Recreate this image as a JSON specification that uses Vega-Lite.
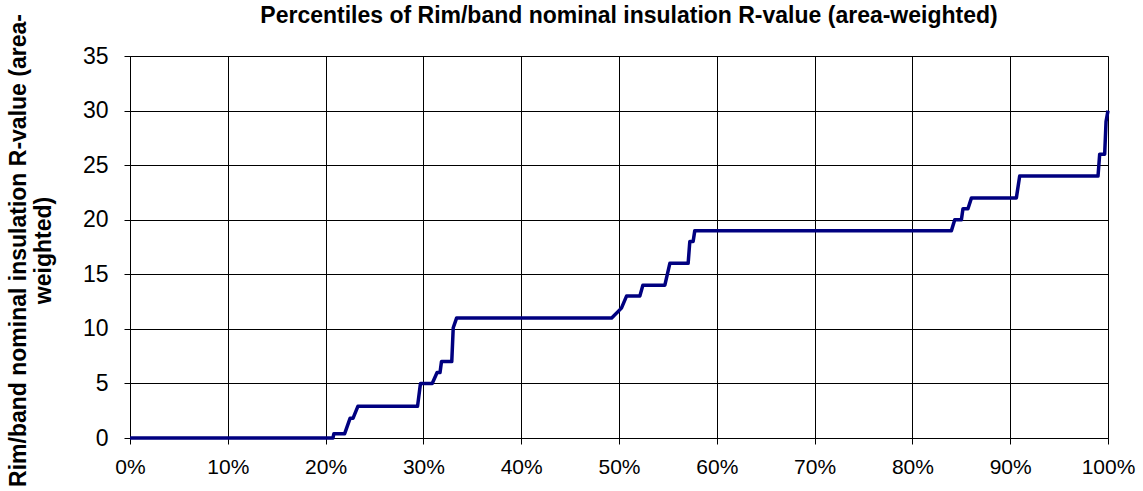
{
  "$schema": "https://vega.github.io/schema/vega-lite/v6.json",
  "width": 978,
  "height": 382,
  "autosize": "none",
  "padding": {"left": 130, "top": 56, "right": 35, "bottom": 53},
  "background": "white",
  "config": {
    "font": "Liberation Sans",
    "view": {"stroke": "#808080", "strokeWidth": 1}
  },
  "title": {
    "text": "Percentiles of Rim/band nominal insulation R-value (area-weighted)",
    "fontSize": 23,
    "fontWeight": "bold",
    "color": "black",
    "anchor": "middle",
    "baseline": "bottom",
    "dx": 10,
    "offset": -37
  },
  "data": {
    "values": [
      {"p": 0.0, "r": 0},
      {"p": 0.2075, "r": 0},
      {"p": 0.2085, "r": 0.4},
      {"p": 0.2195, "r": 0.4},
      {"p": 0.225, "r": 1.8},
      {"p": 0.228, "r": 1.8},
      {"p": 0.233, "r": 2.9},
      {"p": 0.294, "r": 2.9},
      {"p": 0.297, "r": 5},
      {"p": 0.309, "r": 5},
      {"p": 0.314, "r": 6},
      {"p": 0.317, "r": 6},
      {"p": 0.3185, "r": 7},
      {"p": 0.329, "r": 7},
      {"p": 0.3305, "r": 10.1},
      {"p": 0.334, "r": 11},
      {"p": 0.4925, "r": 11},
      {"p": 0.5025, "r": 11.9},
      {"p": 0.5077, "r": 13},
      {"p": 0.5213, "r": 13},
      {"p": 0.5244, "r": 14},
      {"p": 0.5469, "r": 14},
      {"p": 0.552, "r": 16},
      {"p": 0.5707, "r": 16},
      {"p": 0.5724, "r": 18},
      {"p": 0.5758, "r": 18},
      {"p": 0.5775, "r": 19},
      {"p": 0.8399, "r": 19},
      {"p": 0.8433, "r": 20},
      {"p": 0.8501, "r": 20},
      {"p": 0.8517, "r": 21},
      {"p": 0.8568, "r": 21},
      {"p": 0.8604, "r": 22},
      {"p": 0.9063, "r": 22},
      {"p": 0.9097, "r": 24},
      {"p": 0.9898, "r": 24},
      {"p": 0.9915, "r": 26},
      {"p": 0.9966, "r": 26},
      {"p": 0.998, "r": 29},
      {"p": 1.0, "r": 30}
    ]
  },
  "mark": {"type": "line", "color": "#000080", "strokeWidth": 3.5, "strokeJoin": "round"},
  "encoding": {
    "x": {
      "field": "p",
      "type": "quantitative",
      "scale": {"domain": [0, 1], "nice": false, "zero": false},
      "axis": {
        "format": ".0%",
        "values": [0, 0.1, 0.2, 0.3, 0.4, 0.5, 0.6, 0.7, 0.8, 0.9, 1],
        "title": null,
        "grid": true,
        "gridColor": "black",
        "gridOpacity": 1,
        "gridWidth": 1,
        "domainColor": "black",
        "domainWidth": 1,
        "tickColor": "black",
        "tickSize": 6,
        "labelPadding": 12,
        "labelFontSize": 21,
        "labelColor": "black",
        "labelFlush": false,
        "labelOverlap": false,
        "labelFont": "Liberation Sans"
      }
    },
    "y": {
      "field": "r",
      "type": "quantitative",
      "scale": {"domain": [0, 35], "nice": false},
      "axis": {
        "values": [0, 5, 10, 15, 20, 25, 30, 35],
        "title": ["Rim/band nominal insulation R-value (area-", "weighted)"],
        "titleFontSize": 23,
        "titleFontWeight": "bold",
        "titleColor": "black",
        "titleAngle": -90,
        "titleAlign": "center",
        "titleBaseline": "top",
        "titleX": -123,
        "titleY": 194,
        "titleLineHeight": 25,
        "grid": true,
        "gridColor": "black",
        "gridOpacity": 1,
        "gridWidth": 1,
        "domainColor": "black",
        "domainWidth": 1,
        "tickColor": "black",
        "tickSize": 6,
        "labelPadding": 16,
        "labelFontSize": 23,
        "labelColor": "black",
        "labelFlush": false,
        "labelOverlap": false,
        "labelFont": "Liberation Sans"
      }
    }
  }
}
